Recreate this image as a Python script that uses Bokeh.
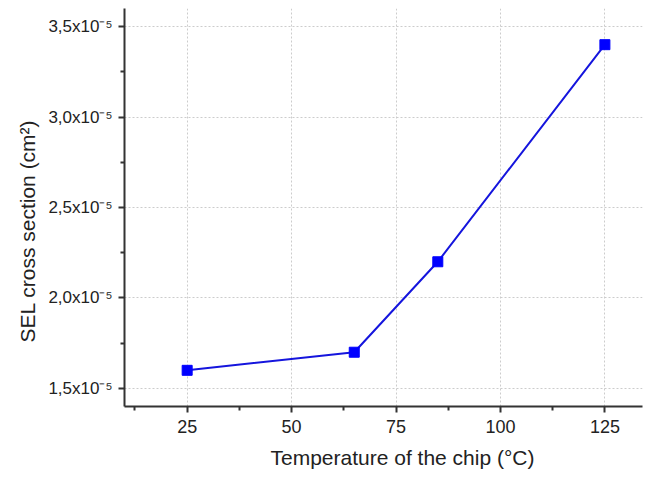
from bokeh.plotting import figure
from bokeh.models import FixedTicker, Range1d, Title
from bokeh.embed import file_html
from bokeh.resources import INLINE

temperature = [25, 65, 85, 125]
sel_cross_section = [1.6e-5, 1.7e-5, 2.2e-5, 3.4e-5]

x_ticks = [25, 50, 75, 100, 125]
x_minor = [12.5, 37.5, 62.5, 87.5, 112.5]
y_ticks = [1.5e-5, 2.0e-5, 2.5e-5, 3.0e-5, 3.5e-5]
y_minor = [1.75e-5, 2.25e-5, 2.75e-5, 3.25e-5]
y_tick_labels = ["1,5x10⁻⁵", "2,0x10⁻⁵", "2,5x10⁻⁵", "3,0x10⁻⁵", "3,5x10⁻⁵"]
x_title = "Temperature of the chip (°C)"
y_title = "SEL cross section (cm²)"

FONT = "Liberation Sans"

p = figure(width=656, height=477, output_backend="svg", toolbar_location=None,
           x_range=Range1d(10, 134), y_range=Range1d(1.4e-5, 3.6e-5),
           min_border_left=124, min_border_bottom=71, min_border_top=8, min_border_right=14)
p.outline_line_color = None
p.background_fill_color = "white"
p.border_fill_color = "white"

p.line(temperature, sel_cross_section, line_color="#1515dd", line_width=2)
p.scatter(temperature, sel_cross_section, marker="square", size=10,
          fill_color="#0000ff", line_color="#0000ff")

p.xaxis.ticker = FixedTicker(ticks=x_ticks, minor_ticks=x_minor)
p.yaxis.ticker = FixedTicker(ticks=y_ticks, minor_ticks=y_minor)
p.yaxis.major_label_overrides = {t: l for t, l in zip(y_ticks, y_tick_labels)}

for ax in (p.xaxis[0], p.yaxis[0]):
    ax.axis_line_color = "#333333"
    ax.axis_line_width = 2
    ax.major_tick_line_color = "#333333"
    ax.major_tick_line_width = 2
    ax.major_tick_out = 6
    ax.major_tick_in = 0
    ax.minor_tick_line_color = "#333333"
    ax.minor_tick_line_width = 2
    ax.minor_tick_out = 4
    ax.minor_tick_in = 0
    ax.major_label_text_font = FONT
    ax.major_label_text_color = "#222222"

p.xaxis.major_label_text_font_size = "18px"
p.yaxis.major_label_text_font_size = "17px"
p.xaxis.major_label_standoff = 7
p.yaxis.major_label_standoff = 6

p.add_layout(Title(text=x_title, align="left", offset=146, standoff=16,
                   text_font=FONT, text_font_size="21px", text_font_style="normal",
                   text_color="#222222"), "below")
p.add_layout(Title(text=y_title, align="left", offset=64, standoff=13,
                   text_font=FONT, text_font_size="21px", text_font_style="normal",
                   text_color="#222222"), "left")

p.grid.grid_line_color = "#cccccc"
p.grid.grid_line_dash = "2 2"
p.grid.grid_line_width = 1

open("out.html", "w").write(file_html(p, INLINE))
